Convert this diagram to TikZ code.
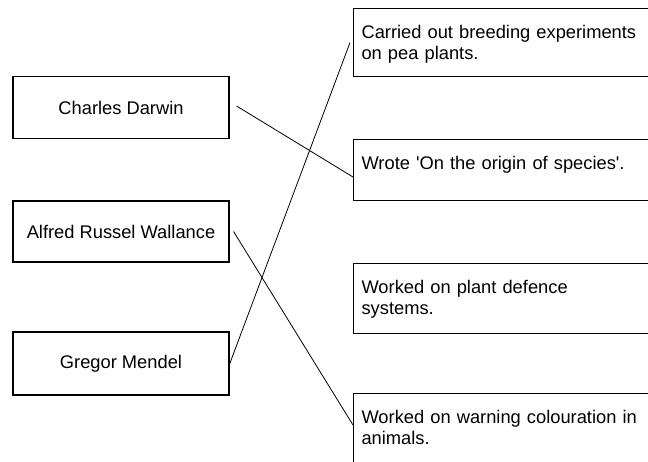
\documentclass[tikz,border=0pt]{standalone}
\usepackage{fontspec}
\setmainfont{Liberation Sans}
\usetikzlibrary{positioning}

\begin{document}
\begin{tikzpicture}[x=1pt, y=-1pt, line join=miter,
				   every node/.style={font=\fontsize{18.3}{21}\selectfont},
				   person/.style={rectangle, draw=black, line width=1.1pt, minimum width=216pt, align=center},
				   fact/.style={rectangle, draw=black, line width=1.1pt, anchor=north west, text width=300pt,
				                align=left, inner xsep=8pt, inner ysep=0pt, text height=30pt},
				   match/.style={draw=black, line width=0.8pt}]
\useasboundingbox (0,0) rectangle (648,461);
\clip (0,0) rectangle (648,461);

% names on the left
\node[person, minimum height=62pt] (darwin) at (121,107.5) {Charles Darwin};
\node[person, minimum height=61pt] (wallace) at (121,231.5) {Alfred Russel Wallance};
\node[person, minimum height=63pt, line width=1.6pt] (mendel) at (121,363.5) {Gregor Mendel};

% facts on the right
\node[fact, text depth=38pt] (pea) at (353,8) {Carried out breeding experiments\\on pea plants.};
\node[fact, text depth=31pt] (origin) at (353,139) {Wrote \textquotesingle On the origin of species\textquotesingle.};
\node[fact, text depth=40pt] (defence) at (353,263) {Worked on plant defence\\systems.};
\node[fact, text depth=60pt] (warning) at (353,393) {Worked on warning colouration in\\animals.};

% matching lines
\draw[match] ([xshift=7pt, yshift=1.5pt]darwin.east) -- ([yshift=-38pt]origin.north west);
\draw[match] ([xshift=4pt]wallace.east) -- ([yshift=-32pt]warning.north west);
\draw[match] (mendel.east) -- ([xshift=-3pt]pea.west);
\end{tikzpicture}
\end{document}
